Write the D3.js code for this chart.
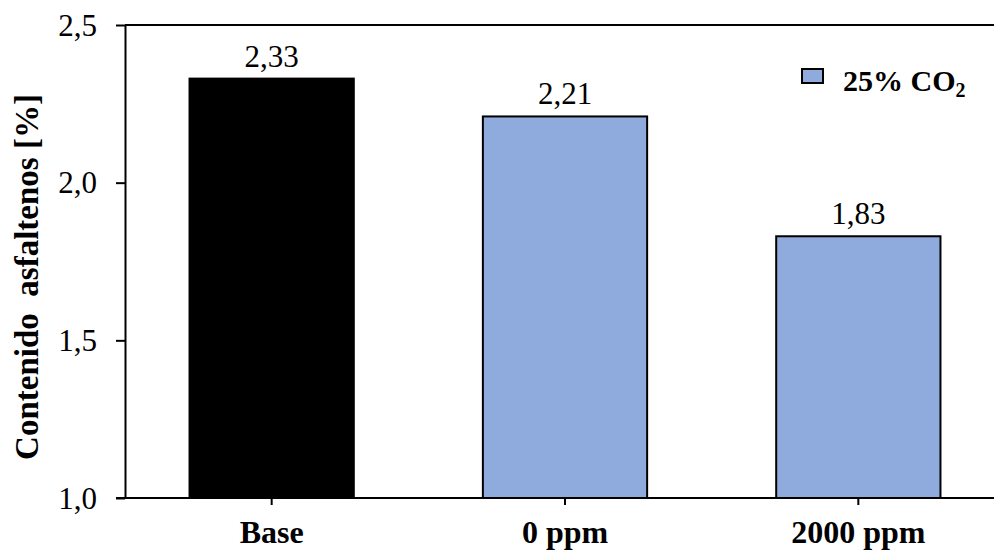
<!DOCTYPE html>
<html>
<head>
<meta charset="utf-8">
<script src="https://cdn.jsdelivr.net/npm/d3@7"></script>
<style>
  html, body { margin: 0; padding: 0; background: #fff; }
  svg { display: block; font-family: "Liberation Serif", "Times New Roman", serif; }
</style>
</head>
<body>
<svg id="chart" width="994" height="552"></svg>
<script>
// Asphaltene content per sample
const categories = ["Base", "0 ppm", "2000 ppm"];
const values = [2.33, 2.21, 1.83];
const barColors = ["#000000", "#8FAADC", "#8FAADC"];
const yTicks = [1.0, 1.5, 2.0, 2.5];
const yDomain = [1.0, 2.5];

const svg = d3.select("#chart");
const margin = { left: 125, top: 25, bottom: 54 };
const plotRight = 1005;
const height = 552;
const serif = "Liberation Serif, Times New Roman, serif";

const x = d3.scaleBand()
  .domain(categories)
  .range([margin.left, plotRight])
  .paddingInner(0.44)
  .paddingOuter(0.22);

const y = d3.scaleLinear()
  .domain(yDomain)
  .range([height - margin.bottom, margin.top]);

const fmt = v => d3.format(".1f")(v).replace(".", ",");
const fmt2 = v => d3.format(".2f")(v).replace(".", ",");

// top border line
svg.append("line")
  .attr("x1", margin.left).attr("x2", 994)
  .attr("y1", y(2.5)).attr("y2", y(2.5))
  .attr("stroke", "#000").attr("stroke-width", 2);

// bars
svg.append("g").selectAll("rect")
  .data(values)
  .join("rect")
  .attr("x", (d, i) => x(categories[i]))
  .attr("width", x.bandwidth())
  .attr("y", d => y(d))
  .attr("height", d => y(yDomain[0]) - y(d))
  .attr("fill", (d, i) => barColors[i])
  .attr("stroke", "#000")
  .attr("stroke-width", 2);

// value labels
svg.append("g").selectAll("text")
  .data(values)
  .join("text")
  .attr("x", (d, i) => x(categories[i]) + x.bandwidth() / 2)
  .attr("y", d => y(d) - 12)
  .attr("text-anchor", "middle")
  .attr("font-size", 31)
  .text(d => fmt2(d));

// y axis
const yAxis = d3.axisLeft(y).tickValues(yTicks).tickFormat(fmt).tickSize(9).tickSizeOuter(0);
const gy = svg.append("g").attr("transform", `translate(${margin.left},0)`).call(yAxis);
gy.select(".domain").attr("stroke-width", 2);
gy.selectAll(".tick line").attr("stroke-width", 2);
gy.selectAll(".tick text").attr("font-size", 31).attr("font-family", serif)
  .attr("x", -28).attr("dy", "0.33em").attr("fill", "#000");

// x axis
const xAxis = d3.axisBottom(x).tickSize(7).tickSizeOuter(0);
const gx = svg.append("g").attr("transform", `translate(0,${y(yDomain[0])})`).call(xAxis);
gx.select(".domain").attr("stroke-width", 2).attr("d", `M${margin.left - 9},0H994`);
gx.selectAll(".tick line").attr("stroke-width", 2);
gx.selectAll(".tick text").attr("font-size", 32).attr("font-weight", "bold")
  .attr("font-family", serif).attr("y", 45).attr("dy", 0).attr("fill", "#000");

// y axis title
svg.append("text")
  .attr("transform", "translate(38,277) rotate(-90)")
  .attr("text-anchor", "middle")
  .attr("font-size", 33)
  .attr("font-weight", "bold")
  .attr("xml:space", "preserve")
  .style("white-space", "pre")
  .text("Contenido  asfaltenos [%]");

// legend
const lg = svg.append("g").attr("transform", "translate(802,69)");
lg.append("rect").attr("width", 21).attr("height", 14)
  .attr("fill", barColors[1]).attr("stroke", "#000").attr("stroke-width", 2);
const lt = lg.append("text").attr("x", 41).attr("y", 22)
  .attr("font-size", 30).attr("font-weight", "bold");
lt.append("tspan").text("25% CO");
lt.append("tspan").attr("font-size", 20).attr("dy", 6).text("2");
</script>
</body>
</html>
